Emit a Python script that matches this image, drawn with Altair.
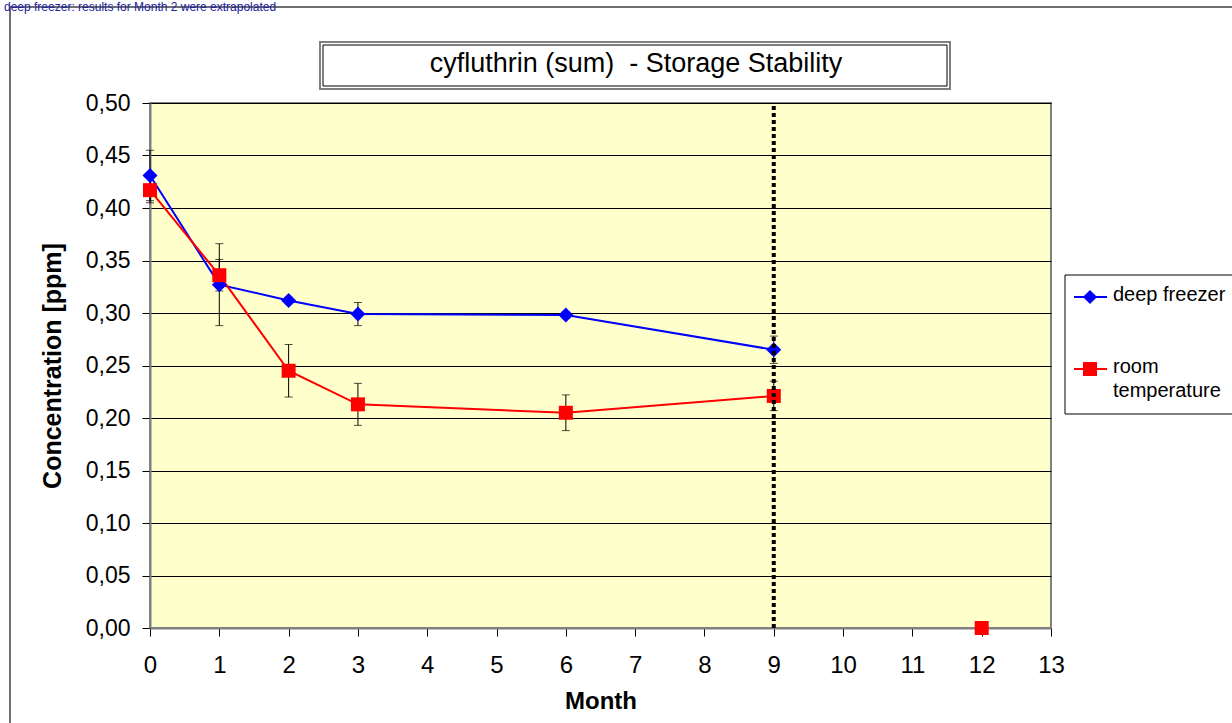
import altair as alt
import pandas as pd

# ---------------- data ----------------
title_text = "cyfluthrin (sum)\u00a0\u00a0- Storage Stability"
note_text = "deep freezer: results for Month 2 were extrapolated"
series_names = ["deep freezer", "room temperature"]
legend_labels = ["deep freezer", "room\ntemperature"]
series_colors = ["#0000FF", "#FF0000"]
series_shapes = ["diamond", "square"]

months = [0, 1, 2, 3, 6, 9]
freezer = [0.431, 0.327, 0.312, 0.299, 0.298, 0.265]
freezer_err = [0.024, 0.039, 0.003, 0.011, 0.003, 0.013]
room = [0.417, 0.336, 0.245, 0.213, 0.205, 0.221]
room_err = [0.012, 0.015, 0.025, 0.020, 0.017, 0.014]
extra_months = [12]
extra_room = [0.0]
ref_month = [9]
x_ticks = list(range(0, 14))
y_ticks = [round(0.05 * i, 2) for i in range(0, 11)]

FONT = "Liberation Sans"

rows = []
for m, v, e in zip(months, freezer, freezer_err):
    rows.append({"month": m, "value": v, "lo": v - e, "hi": v + e, "series": series_names[0]})
for m, v, e in zip(months, room, room_err):
    rows.append({"month": m, "value": v, "lo": v - e, "hi": v + e, "series": series_names[1]})
df = pd.DataFrame(rows)
df_extra = pd.DataFrame({"month": extra_months, "value": extra_room, "series": [series_names[1]] * len(extra_months)})
df_ref = pd.DataFrame({"month": ref_month, "y0": [0.0], "y1": [0.5]})
one = pd.DataFrame({"a": [0]})

W, H = 901, 525

xscale = alt.Scale(domain=[0, 13], nice=False, zero=False)
yscale = alt.Scale(domain=[0, 0.5], nice=False)
color = alt.Color("series:N", scale=alt.Scale(domain=series_names, range=series_colors), legend=None)

x_axis = alt.Axis(values=x_ticks, title="Month", format="d", labelFontSize=24, titleFontSize=24,
                  titleFontWeight="bold", labelFont=FONT, titleFont=FONT, labelColor="black",
                  titleColor="black", tickColor="black", tickSize=8, labelPadding=17,
                  domainColor="#808080", domainWidth=2, grid=False, titleY=73,
                  titleBaseline="middle", labelFlush=False)
y_axis = alt.Axis(values=y_ticks, title="Concentration [ppm]",
                  labelExpr="replace(format(datum.value, '.2f'), '.', ',')",
                  labelFontSize=23, titleFontSize=25, titleFontWeight="bold", labelFont=FONT,
                  titleFont=FONT, labelColor="black", titleColor="black", tickColor="black",
                  tickSize=8, labelPadding=12, domainColor="#808080", domainWidth=2,
                  grid=True, gridColor="black", gridWidth=1, gridOpacity=1,
                  titleAngle=-90, titleX=-98, titleY=H / 2, titleAlign="center",
                  titleBaseline="middle", labelFlush=False)

base = alt.Chart(df)
X = alt.X("month:Q", scale=xscale, axis=x_axis)
Y = alt.Y("value:Q", scale=yscale, axis=y_axis)

err_rule = base.mark_rule(color="black", strokeWidth=1).encode(
    x=alt.X("month:Q", scale=xscale), y=alt.Y("lo:Q", scale=yscale), y2="hi:Q")
err_lo = base.mark_tick(color="black", orient="horizontal", size=8, thickness=1).encode(
    x=alt.X("month:Q", scale=xscale), y=alt.Y("lo:Q", scale=yscale))
err_hi = base.mark_tick(color="black", orient="horizontal", size=8, thickness=1).encode(
    x=alt.X("month:Q", scale=xscale), y=alt.Y("hi:Q", scale=yscale))

lines = base.mark_line(strokeWidth=2).encode(x=X, y=Y, color=color, detail="series:N")
pts_f = base.transform_filter(alt.datum.series == series_names[0]).mark_point(
    filled=True, opacity=1, size=225, shape="diamond").encode(x=X, y=Y, color=color)
pts_r = base.transform_filter(alt.datum.series == series_names[1]).mark_point(
    filled=True, opacity=1, size=196, shape="square").encode(x=X, y=Y, color=color)
pts_extra = alt.Chart(df_extra).mark_point(filled=True, opacity=1, size=196, shape="square").encode(
    x=alt.X("month:Q", scale=xscale), y=alt.Y("value:Q", scale=yscale), color=color)

ref_line = alt.Chart(df_ref).mark_rule(color="black", strokeWidth=4, strokeDash=[4, 3]).encode(
    x=alt.X("month:Q", scale=xscale), y=alt.Y("y0:Q", scale=yscale), y2="y1:Q")

# ---------------- decorations ----------------
outer = alt.Chart(one).mark_rect(fill="white", fillOpacity=0, stroke="#404040", strokeWidth=1.5).encode(
    x=alt.value(-140), x2=alt.value(1100), y=alt.value(-96), y2=alt.value(640))

note = alt.Chart(pd.DataFrame({"t": [note_text]})).mark_text(
    font=FONT, fontSize=12, color="#2020A0", align="left", baseline="top").encode(
    x=alt.value(-146), y=alt.value(-101), text="t:N")

tbox_outer = alt.Chart(one).mark_rect(fill="white", stroke="#808080", strokeWidth=2).encode(
    x=alt.value(170), x2=alt.value(800), y=alt.value(-61), y2=alt.value(-14))
tbox_inner = alt.Chart(one).mark_rect(fill="white", stroke="black", strokeWidth=1, fillOpacity=0).encode(
    x=alt.value(173), x2=alt.value(797), y=alt.value(-58), y2=alt.value(-17))
ttext = alt.Chart(pd.DataFrame({"t": [title_text]})).mark_text(
    font=FONT, fontSize=27, color="black", align="center", baseline="middle").encode(
    x=alt.value(486), y=alt.value(-39), text="t:N")

leg_box = alt.Chart(one).mark_rect(fill="white", stroke="black", strokeWidth=1).encode(
    x=alt.value(915), x2=alt.value(1100), y=alt.value(172), y2=alt.value(311))

leg_df = pd.DataFrame({"series": series_names, "label": legend_labels})
leg_layers = []
for sname, shp, ypix in zip(series_names, series_shapes, [194, 266]):
    sub = alt.Chart(leg_df).transform_filter(alt.datum.series == sname)
    leg_layers.append(sub.mark_rule(strokeWidth=2).encode(
        x=alt.value(924), x2=alt.value(957), y=alt.value(ypix), color=color))
    leg_layers.append(sub.mark_point(filled=True, opacity=1, size=196 if shp == "square" else 200,
                                     shape=shp).encode(x=alt.value(940), y=alt.value(ypix), color=color))
    leg_layers.append(sub.mark_text(font=FONT, fontSize=20, color="black", align="left",
                                    baseline="top", lineBreak="\n", lineHeight=24).encode(
        x=alt.value(963), y=alt.value(ypix - 12), text="label:N"))

chart = alt.layer(
    outer, note, err_rule, err_lo, err_hi, lines, pts_f, pts_r, pts_extra, ref_line,
    tbox_outer, tbox_inner, ttext, leg_box, *leg_layers
).properties(
    width=W, height=H,
    autosize=alt.AutoSizeParams(type="none"),
    padding={"left": 150, "top": 103, "right": 181, "bottom": 95},
    background="white",
).configure_view(fill="#FFFFCC", stroke="#808080", strokeWidth=2)

chart.save("out.html", embed_options={"renderer": "svg", "actions": False})
